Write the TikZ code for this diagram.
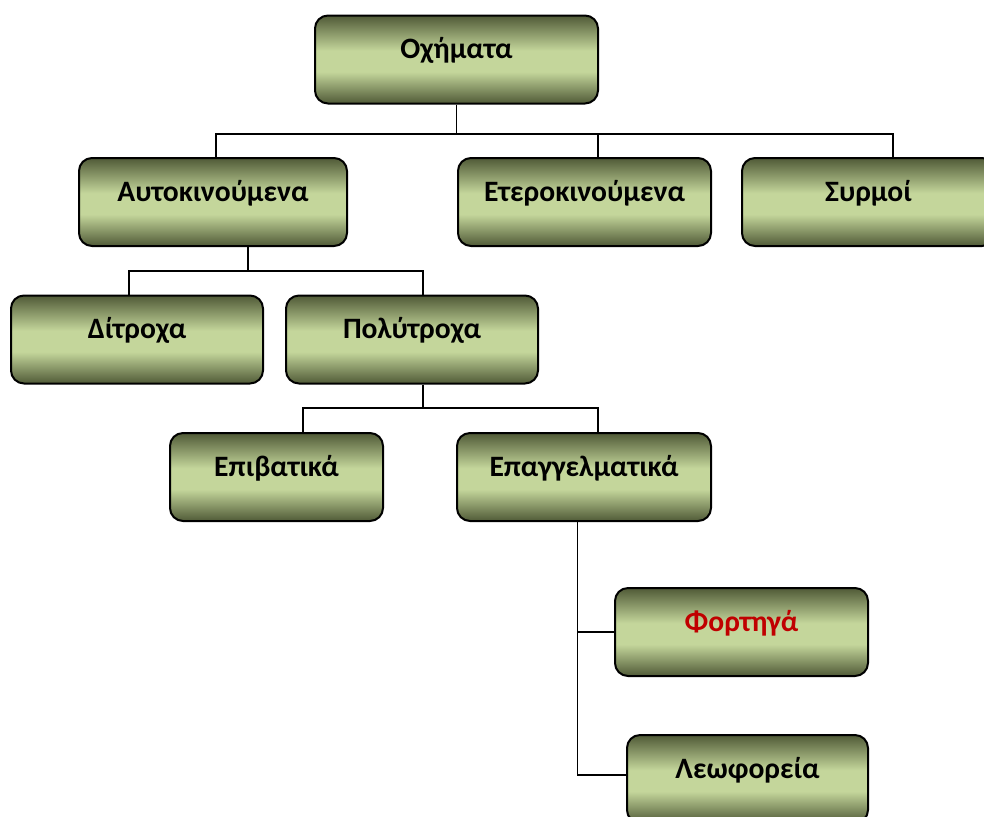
\documentclass[tikz,border=0pt]{standalone}
\usepackage{fontspec}
\setmainfont{Carlito}
\definecolor{boxdark}{RGB}{80,90,55}
\definecolor{boxlight}{RGB}{196,214,155}
\definecolor{boxred}{RGB}{192,0,0}
\pgfdeclareverticalshading{boxshade}{100bp}{color(0bp)=(boxdark); color(25bp)=(boxdark); color(43bp)=(boxlight); color(55bp)=(boxlight); color(75bp)=(boxdark); color(100bp)=(boxdark)}
\tikzset{
  tierbox/.style = {draw, line width=1pt, rounded corners=6.5pt,
    shading=boxshade, minimum width=#1, inner xsep=0pt, inner ysep=0pt,
    text height=21.5pt, text depth=22.5pt,
    font=\fontsize{14.8}{17}\selectfont\bfseries},
  tierbox/.default = 126.5pt,
  link/.style = {line width=0.8pt}
}
\begin{document}
\begin{tikzpicture}[x=0.5pt, y=-0.5pt]
  \useasboundingbox (0,0) rectangle (984,816);

  \node[tierbox=141.5pt] (oxhmata) at (456.5,59.5) {Οχήματα};
  \node[tierbox=134pt] (auto) at (213,202) {Αυτοκινούμενα};
  \node[tierbox] (etero) at (584.5,202) {Ετεροκινούμενα};
  \node[tierbox] (syrmoi) at (868.5,202) {Συρμοί};
  \node[tierbox=126pt] (ditroxa) at (137,339.5) {Δίτροχα};
  \node[tierbox=126pt] (polytroxa) at (412,339.5) {Πολύτροχα};
  \node[tierbox=106.5pt] (epivatika) at (276.5,477) {Επιβατικά};
  \node[tierbox=127pt] (epaggelm) at (584,477) {Επαγγελματικά};
  \node[tierbox, text=boxred] (fortiga) at (741.5,632) {Φορτηγά};
  \node[tierbox=120.5pt] (leof) at (747.5,779) {Λεωφορεία};

  \coordinate (bus1) at (456.5,134);
  \coordinate (bus1l) at (216,134);
  \coordinate (bus1m) at (598,134);
  \coordinate (bus1r) at (893,134);
  \draw[link] (oxhmata.south) -- (bus1);
  \draw[link] (auto.north -| bus1l) -- (bus1l) -- (bus1r)
    -- (syrmoi.north -| bus1r);
  \draw[link] (bus1m) -- (etero.north -| bus1m);

  \coordinate (bus2) at (248,271);
  \coordinate (bus2l) at (129,271);
  \coordinate (bus2r) at (423,271);
  \draw[link] (auto.south -| bus2) -- (bus2);
  \draw[link] (ditroxa.north -| bus2l) -- (bus2l) -- (bus2r)
    -- (polytroxa.north -| bus2r);

  \coordinate (bus3) at (423,408);
  \coordinate (bus3l) at (303,408);
  \coordinate (bus3r) at (598,408);
  \draw[link] (polytroxa.south -| bus3) -- (bus3);
  \draw[link] (epivatika.north -| bus3l) -- (bus3l) -- (bus3r)
    -- (epaggelm.north -| bus3r);

  \coordinate (trunk) at (577.5,775);
  \draw[link] (epaggelm.south -| trunk) -- (trunk) -- (leof.west |- trunk);
  \draw[link] (fortiga.west) -- (fortiga.west -| trunk);

\end{tikzpicture}
\end{document}
